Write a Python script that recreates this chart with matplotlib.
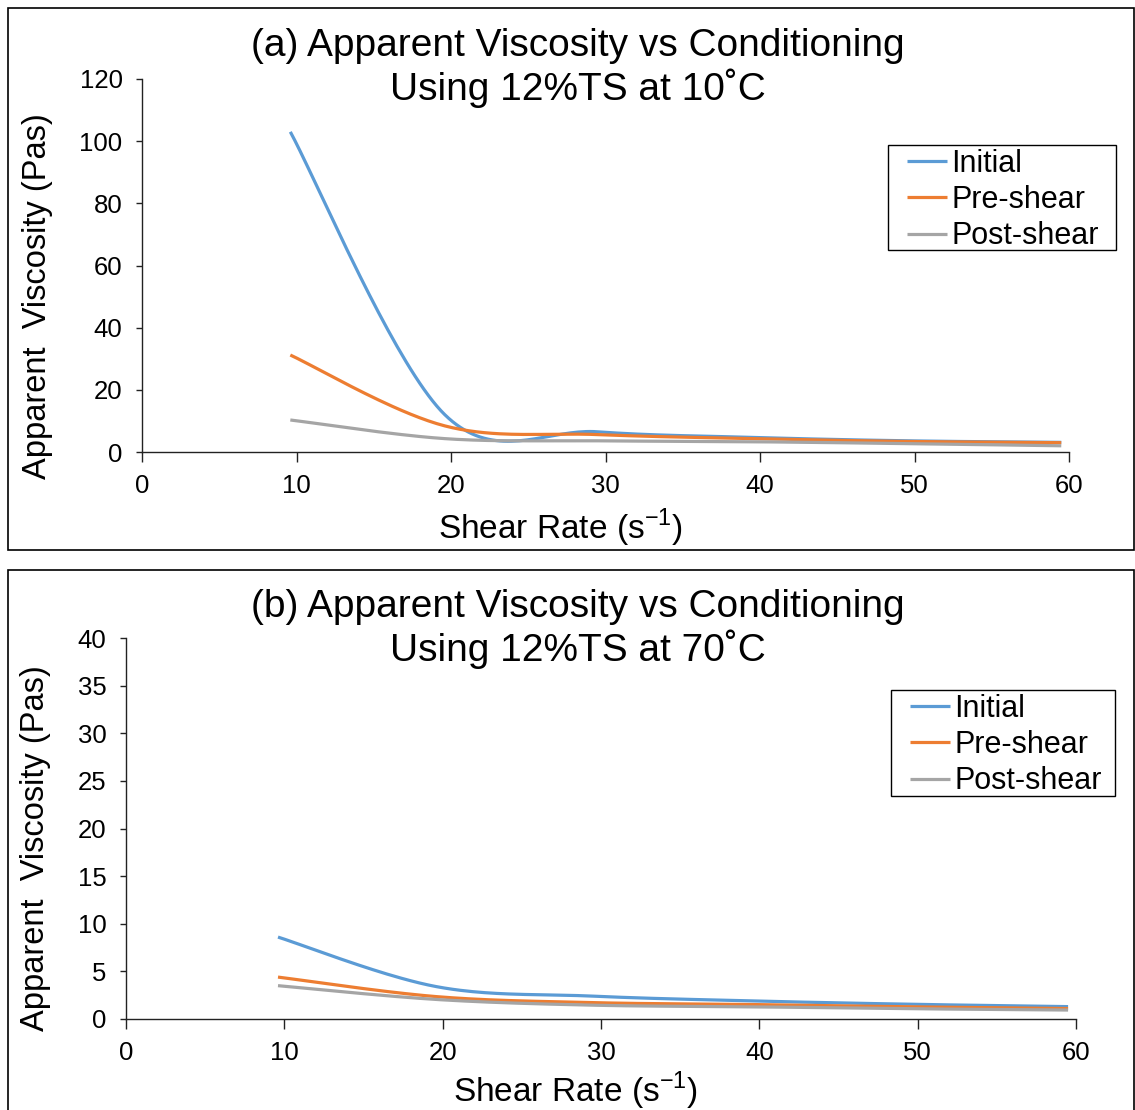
import numpy as np
import matplotlib
matplotlib.use('agg')
import matplotlib.pyplot as plt
from matplotlib.patches import Rectangle

plt.rcParams['font.family'] = ['Liberation Sans', 'DejaVu Sans']
plt.rcParams['mathtext.fontset'] = 'custom'
plt.rcParams['mathtext.rm'] = 'Liberation Sans'

# shear rate (1/s) at which viscosity was measured
shear_rate = [9.6, 19.6, 29.5, 39.5, 49.5, 59.5]

# (a) 12%TS at 10 C, apparent viscosity (Pas)
a_initial = [103.0, 12.0, 6.5, 4.7, 3.6, 3.1]
a_pre = [31.2, 8.4, 5.6, 4.3, 3.4, 3.0]
a_post = [10.3, 4.3, 3.6, 3.3, 2.7, 2.0]

# (b) 12%TS at 70 C
b_initial = [8.6, 3.4, 2.4, 1.9, 1.55, 1.3]
b_pre = [4.4, 2.35, 1.72, 1.52, 1.28, 1.1]
b_post = [3.5, 2.05, 1.45, 1.28, 1.08, 0.94]

labels = ['Initial', 'Pre-shear', 'Post-shear']
colors = ['#5B9BD5', '#ED7D31', '#A5A5A5']

W, H = 1135, 1110


def smooth(xs, ys, n=40):
	# excel style smoothed line (bezier through the points)
	p = np.column_stack([xs, ys]).astype(float)
	p = np.vstack([p[0], p, p[-1]])
	t = np.linspace(0, 1, n)[:, None]
	out = []
	for i in range(1, len(p) - 2):
		p0, p1, p2, p3 = p[i-1], p[i], p[i+1], p[i+2]
		c1 = p1 + (p2 - p0) / 6
		c2 = p2 - (p3 - p1) / 6
		seg = (1-t)**3*p1 + 3*(1-t)**2*t*c1 + 3*(1-t)*t**2*c2 + t**3*p2
		out.append(seg)
	out = np.vstack(out)
	return out[:, 0], out[:, 1]


def panel(fig, box, series, ymax, ystep, title, title_y, leg_box, xlab_xy, ylab_xy):
	# box = left, top, right, bottom of the axes in pixels
	l, t, r, b = box
	ax = fig.add_axes([l/W, 1 - b/H, (r-l)/W, (b-t)/H])
	for ys, lab, c in zip(series, labels, colors):
		sx, sy = smooth(shear_rate, ys)
		ax.plot(sx, sy, color=c, lw=2.3, label=lab, solid_capstyle='butt')
	ax.set_xlim(0, 60)
	ax.set_ylim(0, ymax)
	ax.set_xticks(range(0, 61, 10))
	ax.set_yticks(np.arange(0, ymax + 0.1, ystep))
	for s in ['top', 'right']:
		ax.spines[s].set_visible(False)
	for s in ['left', 'bottom']:
		ax.spines[s].set_color('#222222')
		ax.spines[s].set_linewidth(1.0)
	ax.tick_params(axis='both', labelsize=18.5, color='#222222', width=1.0)
	ax.tick_params(axis='x', length=7, pad=9)
	ax.tick_params(axis='y', length=4, pad=10)

	fig.text(578/W, 1 - title_y/H, title, fontsize=28, ha='center', va='center', linespacing=1.15)
	fig.text(ylab_xy[0]/W, 1 - ylab_xy[1]/H, 'Apparent  Viscosity (Pas)', fontsize=23.5,
		rotation=90, ha='center', va='center')
	fig.text(xlab_xy[0]/W, 1 - xlab_xy[1]/H, 'Shear Rate (s$^{\\mathregular{-1}}$)',
		fontsize=24, ha='center', va='center')

	# legend frame drawn by hand so the padding matches
	bl, bt, br, bb = leg_box
	fig.add_artist(Rectangle((bl/W, 1 - bb/H), (br-bl)/W, (bb-bt)/H, transform=fig.transFigure,
		fill=False, edgecolor='black', lw=1.0))
	ax.legend(loc='upper left', bbox_to_anchor=((bl+19)/W, 1 - (bt+4)/H),
		bbox_transform=fig.transFigure, fontsize=22, frameon=False,
		handlelength=1.3, handletextpad=0.15, labelspacing=0.2, borderpad=0, borderaxespad=0)
	return ax


fig = plt.figure(figsize=(W/100, H/100), dpi=100)

fig.add_artist(Rectangle((8/W, 1 - 550/H), 1126/W, 542/H, transform=fig.transFigure,
	fill=False, edgecolor='black', lw=1.2))
fig.add_artist(Rectangle((8/W, -0.01), 1126/W, 1 - 570/H + 0.01, transform=fig.transFigure,
	fill=False, edgecolor='black', lw=1.2))

panel(fig, (142, 79, 1069, 452), [a_initial, a_pre, a_post], 120, 20,
	'(a) Apparent Viscosity vs Conditioning\nUsing 12%TS at 10˚C', 68,
	(888, 145, 1116, 250), (560, 528), (38, 296))
panel(fig, (126, 638, 1076, 1019), [b_initial, b_pre, b_post], 40, 5,
	'(b) Apparent Viscosity vs Conditioning\nUsing 12%TS at 70˚C', 629,
	(891, 690, 1115, 796), (575, 1091), (36, 848))

fig.savefig('out.png', dpi=100)
plt.close(fig)
